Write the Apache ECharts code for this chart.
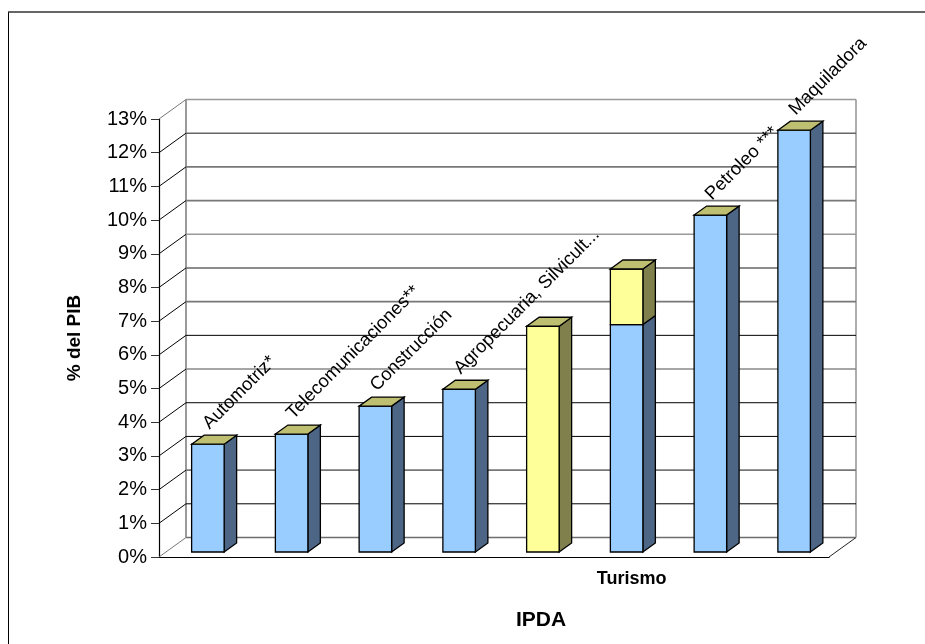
<!DOCTYPE html>
<html><head><meta charset="utf-8">
<style>html,body{margin:0;padding:0;background:#fff}#c{width:925px;height:644px}</style>
<script src="https://cdn.jsdelivr.net/npm/echarts@6/dist/echarts.min.js"></script>
</head><body><div id="c"></div>
<script>
const categories = ['Automotriz*','Telecomunicaciones**','Construcción','Agropecuaria, Silvicult...','','Turismo','Petroleo ***','Maquiladora'];
const axisCategories = ['','','','','','Turismo','',''];
const blueValues = [3.2,3.5,4.33,4.83,0,6.75,10,12.52];
const yellowValues = [0,0,0,0,6.7,1.65,0,0];
const topLabels = ['Automotriz*','Telecomunicaciones**','Construcción','Agropecuaria, Silvicult...','','','Petroleo ***','Maquiladora'];
const yTicks = [0,1,2,3,4,5,6,7,8,9,10,11,12,13];
const wallColors = ['#6e6e6e','#000','#777','#000','#000','#888','#000','#777','#666','#999','#777','#777','#666','#999'];
const FONT = '"Liberation Sans", Arial, sans-serif';
const DX = 27, DY = -19.5;     // wall depth
const OX = 7, OY = -5;         // bar offset from front plane
const BX = 12.5, BY = -9;      // bar depth
const BW = 32.5;               // bar width

function wallItem(params, api){
  const v = api.value(0), idx = params.dataIndex;
  const cs = params.coordSys;
  const y = api.coord([0,v])[1];
  const left = cs.x, right = cs.x + cs.width;
  const col = wallColors[idx];
  const black = col === '#000';
  const lw = black ? 1 : 1.6;
  const ch = [];
  ch.push({type:'line',shape:{x1:left+DX,y1:y+DY,x2:right+DX,y2:y+DY},style:{stroke:col,lineWidth:lw}});
  const diag = (idx===0||idx===yTicks.length-1) ? '#777' : '#000';
  ch.push({type:'line',shape:{x1:left,y1:y,x2:left+DX,y2:y+DY},style:{stroke:diag,lineWidth:1}});
  if(idx===0){
    ch.push({type:'line',shape:{x1:right,y1:y,x2:right+DX,y2:y+DY},style:{stroke:'#222',lineWidth:1}});
    const top = api.coord([0,yTicks[yTicks.length-1]])[1];
    ch.push({type:'line',shape:{x1:left+DX,y1:y+DY,x2:left+DX,y2:top+DY},style:{stroke:'#808080',lineWidth:1.6}});
    ch.push({type:'line',shape:{x1:right+DX,y1:y+DY,x2:right+DX,y2:top+DY},style:{stroke:'#999',lineWidth:1.6}});
  }
  return {type:'group',children:ch};
}

function barItem(frontCol, sideCol, topCol){
  return function(params, api){
    const i = api.value(0), base = api.value(1), h = api.value(2);
    const showTop = api.value(3);
    if(h<=0 && !showTop) return null;
    const p0 = api.coord([i,base]), p1 = api.coord([i,base+h]);
    const xl = p0[0]+OX-BW/2, xr = xl+BW;
    const yb = p0[1]+OY, yt = p1[1]+OY;
    const st = (c)=>({fill:c,stroke:'#000',lineWidth:1.3,lineJoin:'miter'});
    const ch = [];
    if(h>0){
      ch.push({type:'polygon',shape:{points:[[xr,yb],[xr+BX,yb+BY],[xr+BX,yt+BY],[xr,yt]]},style:st(sideCol)});
      ch.push({type:'rect',shape:{x:xl,y:yt,width:BW,height:yb-yt},style:st(frontCol)});
    }
    if(showTop){
      ch.push({type:'polygon',shape:{points:[[xl,yt],[xl+BX,yt+BY],[xr+BX,yt+BY],[xr,yt]]},style:st(topCol)});
    }
    return {type:'group',children:ch};
  };
}

function labelItem(params, api){
  const i = api.value(0), v = api.value(1);
  const name = topLabels[i];
  if(!name) return null;
  const p = api.coord([i,v]);
  return {type:'text',x:p[0]+OX-2,y:p[1]+OY+BY-9,rotation:Math.PI/4,
    style:{text:name,font:'18.4px '+FONT,fill:'#000',textAlign:'left',textVerticalAlign:'middle'}};
}

const blueData = blueValues.map((v,i)=>[i,0,v,0]);
const yellowData = yellowValues.map((v,i)=>[i,blueValues[i],v,1]);
const totals = blueValues.map((v,i)=>[i,v+yellowValues[i]]);

const chart = echarts.init(document.getElementById('c'),null,{renderer:'canvas'});
chart.setOption({
  animation:false,
  backgroundColor:'#fff',
  grid:{left:159,right:96,top:119,bottom:87,containLabel:false},
  xAxis:{type:'category',data:axisCategories,
    axisLine:{show:true,lineStyle:{color:'#000',width:1.2}},axisTick:{show:false},
    axisLabel:{interval:0,margin:13,color:'#000',fontFamily:FONT,fontWeight:'bold',fontSize:18,padding:[0,0,0,24]},
    splitLine:{show:false}},
  yAxis:{type:'value',min:0,max:13,interval:1,
    name:'% del PIB',nameLocation:'middle',nameGap:75,nameRotate:90,
    nameTextStyle:{color:'#000',fontFamily:FONT,fontWeight:'bold',fontSize:19},
    axisLine:{show:true,lineStyle:{color:'#000',width:1.2}},
    axisTick:{show:true,length:8,lineStyle:{color:'#333',width:1}},
    axisLabel:{margin:12,color:'#000',fontFamily:FONT,fontSize:20,padding:[2,0,0,0],formatter:'{value}%'},
    splitLine:{show:false}},
  graphic:[
    {type:'line',shape:{x1:8.5,y1:12,x2:8.5,y2:644},style:{stroke:'#000',lineWidth:1}},
    {type:'line',shape:{x1:8,y1:12,x2:925,y2:12},style:{stroke:'#333',lineWidth:1.3}},
    {type:'text',left:516,top:610,style:{text:'IPDA',font:'bold 21px '+FONT,fill:'#000'}}
  ],
  series:[
    {type:'custom',clip:false,z:1,coordinateSystem:'cartesian2d',renderItem:wallItem,data:yTicks.map(v=>[v,v]),encode:{y:1}},
    {type:'custom',clip:false,z:2,renderItem:barItem('#99CCFF','#4D6685','#BFBF72'),data:blueData,encode:{x:0,y:2}},
    {type:'custom',clip:false,z:3,renderItem:barItem('#FFFF99','#80804D','#BFBF72'),data:yellowData,encode:{x:0,y:2}},
    {type:'custom',clip:false,z:4,renderItem:labelItem,data:totals,encode:{x:0,y:1}}
  ]
});
</script></body></html>
